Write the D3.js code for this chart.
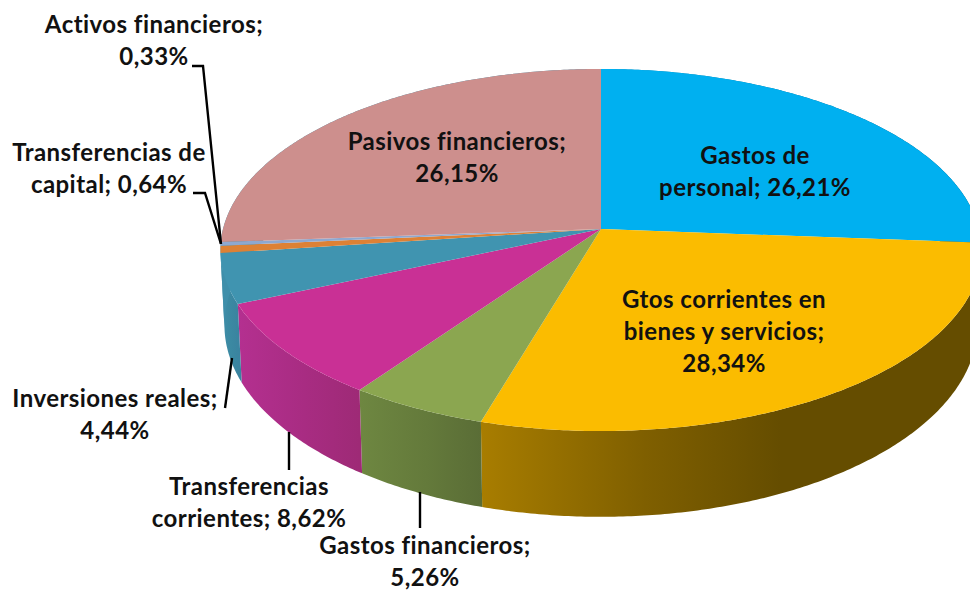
<!DOCTYPE html>
<html><head><meta charset="utf-8">
<script src="https://d3js.org/d3.v7.min.js"></script>
<style>html,body{margin:0;padding:0;background:#fff;overflow:hidden}svg{display:block}</style>
</head><body><svg id="c" width="970" height="590"></svg>
<script>
const categories=["Gastos de personal","Gtos corrientes en bienes y servicios","Gastos financieros","Transferencias corrientes","Inversiones reales","Transferencias de capital","Activos financieros","Pasivos financieros"];
const values=[26.21,28.34,5.26,8.62,4.44,0.64,0.33,26.15];
const topColors=["#00B0F0","#FBBC00","#8BA650","#C93095","#4094B0","#DD8135","#8EA8D0","#CD8F8D"];
const sideFrom=["#008CC0","#A87D00","#6E8741","#B43090","#3F8FAA","#3F8FAA","#3F8FAA","#3F8FAA"];
const sideMid=["#006C94","#7F5F00","#647A3B","#A82C82","#3B89A2","#3F8FAA","#3F8FAA","#3F8FAA"];
const sideTo=["#00506E","#654D00","#5A6D36","#9E2A76","#3A84A0","#3F8FAA","#3F8FAA","#3F8FAA"];
const labelLines=[["Gastos de","personal; 26,21%"],["Gtos corrientes en","bienes y servicios;","28,34%"],["Gastos financieros;","5,26%"],["Transferencias","corrientes; 8,62%"],["Inversiones reales;","4,44%"],["Transferencias de","capital; 0,64%"],["Activos financieros;","0,33%"],["Pasivos financieros;","26,15%"]];
const labelX=[755,724,425,249,115,109,154,457];
const labelY=[156,300,546,487,399,153,25,142];
const leaders=[null,null,[[420,492],[420,528]],[[289,432],[289,470]],[[232,358],[225,408]],[[193,193],[205,193],[221,244]],[[192,66],[203,66],[221,244]],null];

const svg=d3.select("#c");
const pie=d3.pie().sort(null).value(d=>d)(values);
const k=0.116;
const topPlane={cy:229,rx:378,ry:178.6};
const basePlane={cy:303,rx:374,ry:189};
function project(p,a){const x=Math.sin(a),y=-Math.cos(a),w=1-k*y;return [601+p.rx*x/w,p.cy+p.ry*y/w];}
function arcPts(p,a0,a1){const n=Math.max(2,Math.ceil((a1-a0)/0.01));return d3.range(n+1).map(i=>project(p,a0+(a1-a0)*i/n));}
const line=d3.line();
const defs=svg.append("defs");
pie.forEach((d,i)=>{
  const top=arcPts(topPlane,d.startAngle,d.endAngle);
  const xs=top.map(t=>t[0]);
  const x0=d3.min(xs),x1=d3.max(xs);
  const g=defs.append("linearGradient").attr("id","s"+i).attr("gradientUnits","userSpaceOnUse")
    .attr("x1",x0).attr("x2",i===1?x0+300:x1).attr("y1",0).attr("y2",0);
  g.append("stop").attr("offset",0).attr("stop-color",sideFrom[i]);
  g.append("stop").attr("offset",0.55).attr("stop-color",sideMid[i]);
  g.append("stop").attr("offset",1).attr("stop-color",sideTo[i]);
});
const gSide=svg.append("g"),gTop=svg.append("g");
pie.forEach((d,i)=>{
  const t=arcPts(topPlane,d.startAngle,d.endAngle),b=arcPts(basePlane,d.startAngle,d.endAngle).reverse();
  gSide.append("path").attr("d",line(t.concat(b))+"Z").attr("fill",`url(#s${i})`);
});
pie.forEach((d,i)=>{
  const t=arcPts(topPlane,d.startAngle,d.endAngle);
  gTop.append("path").attr("d",line([[601,229]].concat(t))+"Z").attr("fill",topColors[i]);
});
const gL=svg.append("g");
leaders.forEach(l=>{if(l)gL.append("path").attr("d",line(l)).attr("fill","none").attr("stroke","#000").attr("stroke-width",2.4);});
const gT=svg.append("g").attr("font-family","Lato").attr("font-weight",700).attr("font-size",24).attr("letter-spacing",0.45).attr("fill","#111").attr("text-anchor","middle");
labelLines.forEach((ls,i)=>{
  ls.forEach((s,j)=>{
    gT.append("text").attr("x",labelX[i]).attr("y",labelY[i]+j*32).attr("dy","0.35em").text(s);
  });
});
</script></body></html>
